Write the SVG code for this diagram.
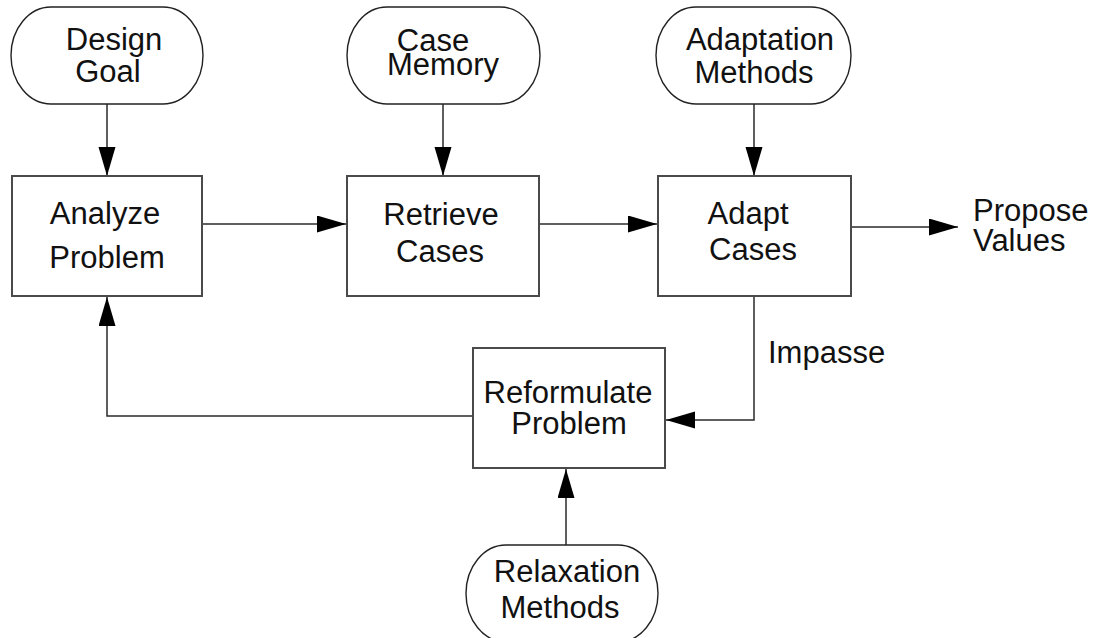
<svg xmlns="http://www.w3.org/2000/svg" width="1097" height="638" viewBox="0 0 1097 638">
  <style>
    .box { fill: #fff; stroke: #4a4a4a; stroke-width: 2; }
    .term { fill: #fff; stroke: #222; stroke-width: 1.4; }
    .edge { fill: none; stroke: #2a2a2a; stroke-width: 1.5; }
    text { font-family: "Liberation Sans", Arial, sans-serif; font-size: 31px; fill: #111; }
    .c { text-anchor: middle; }
  </style>
  <defs>
    <marker id="arrow" markerUnits="userSpaceOnUse" markerWidth="30" markerHeight="18" refX="29" refY="8.5" orient="auto">
      <path d="M0,0 L29,8.5 L0,17 z" fill="#000"/>
    </marker>
  </defs>

  <rect width="1097" height="638" fill="#fff"/>

  <!-- connectors -->
  <g id="connectors">
    <line class="edge" x1="107" y1="104" x2="107" y2="176" marker-end="url(#arrow)"/>
    <line class="edge" x1="443" y1="104" x2="443" y2="176" marker-end="url(#arrow)"/>
    <line class="edge" x1="754" y1="104" x2="754" y2="176" marker-end="url(#arrow)"/>
    <line class="edge" x1="203" y1="224" x2="346" y2="224" marker-end="url(#arrow)"/>
    <line class="edge" x1="539" y1="224" x2="657" y2="224" marker-end="url(#arrow)"/>
    <line class="edge" x1="851" y1="227" x2="958" y2="227" marker-end="url(#arrow)"/>
    <path class="edge" d="M754,296 V420 H666" marker-end="url(#arrow)"/>
    <path class="edge" d="M473,416 H107 V297" marker-end="url(#arrow)"/>
    <line class="edge" x1="566" y1="545" x2="566" y2="469" marker-end="url(#arrow)"/>
    <text x="768" y="363">Impasse</text>
  </g>

  <g id="design-goal">
    <rect class="term" x="11" y="7" width="192" height="97" rx="40" ry="48.5"/>
    <text x="114" y="50" class="c">Design</text>
    <text x="108" y="82" class="c">Goal</text>
  </g>

  <g id="case-memory">
    <rect class="term" x="347" y="7" width="193" height="97" rx="40" ry="48.5"/>
    <text x="433" y="51" class="c">Case</text>
    <text x="443" y="75" class="c">Memory</text>
  </g>

  <g id="adaptation-methods">
    <rect class="term" x="656" y="7" width="195" height="97" rx="40" ry="48.5"/>
    <text x="760" y="50" class="c">Adaptation</text>
    <text x="754" y="83" class="c">Methods</text>
  </g>

  <g id="analyze-problem">
    <rect class="box" x="12" y="176" width="190" height="120"/>
    <text x="105" y="224" class="c">Analyze</text>
    <text x="107" y="268" class="c">Problem</text>
  </g>

  <g id="retrieve-cases">
    <rect class="box" x="347" y="176" width="192" height="120"/>
    <text x="441" y="225" class="c">Retrieve</text>
    <text x="440" y="262" class="c">Cases</text>
  </g>

  <g id="adapt-cases">
    <rect class="box" x="658" y="176" width="193" height="120"/>
    <text x="748" y="224" class="c">Adapt</text>
    <text x="753" y="260" class="c">Cases</text>
  </g>

  <g id="propose-values">
    <text x="973" y="221">Propose</text>
    <text x="973" y="251">Values</text>
  </g>

  <g id="reformulate-problem">
    <rect class="box" x="473" y="348" width="192" height="120"/>
    <text x="568" y="403" class="c">Reformulate</text>
    <text x="569" y="434" class="c">Problem</text>
  </g>

  <g id="relaxation-methods">
    <rect class="term" x="466" y="545" width="192" height="97" rx="40" ry="48.5"/>
    <text x="567" y="582" class="c">Relaxation</text>
    <text x="560" y="618" class="c">Methods</text>
  </g>
</svg>
